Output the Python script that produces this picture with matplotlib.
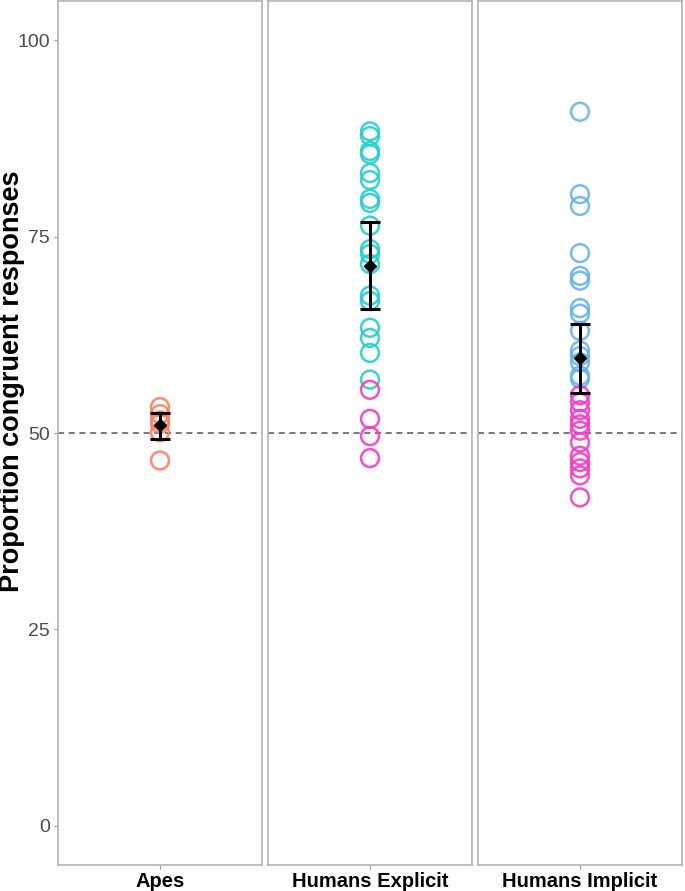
import matplotlib
matplotlib.use("Agg")
import matplotlib.pyplot as plt

plt.rcParams['font.family'] = ['Liberation Sans', 'DejaVu Sans']

groups = ['Apes', 'Humans Explicit', 'Humans Implicit']

# individual scores (proportion congruent responses, %)
apes = [53.3, 52.4, 51.6, 51.2, 50.1, 46.5]
apes_sig = [0, 0, 0, 0, 0, 0]

explicit = [88.4, 87.8, 85.9, 85.5, 83.1, 82.2, 79.8, 79.3, 76.4, 73.4, 72.8,
            71.5, 67.5, 66.8, 63.4, 62.1, 60.2, 56.8, 55.5, 51.8, 49.6, 46.8]
explicit_sig = [1] * 18 + [0] * 4

implicit = [90.9, 80.4, 78.9, 72.9, 70.0, 69.4, 65.9, 65.2, 63.0, 60.5, 59.8,
            59.0, 57.3, 56.9, 54.8, 53.9, 52.9, 51.8, 51.1, 50.3, 48.8, 47.1,
            46.3, 45.5, 44.6, 41.8]
implicit_sig = [1] * 14 + [0] * 12

# group mean and error bar limits
means = [51.0, 71.3, 59.5]
lower = [49.2, 65.8, 55.1]
upper = [52.6, 76.9, 63.9]

values = [apes, explicit, implicit]
sigs = [apes_sig, explicit_sig, implicit_sig]
sig_colors = ['#FF8060', '#22CFCF', '#66B3F0']
nonsig_color = ['#FF8060', '#F53BC8', '#F53BC8']

fig = plt.figure(figsize=(6.85, 8.91), dpi=100)
W, H = 685.0, 891.0
lefts = [58, 268, 478]
pw = 204
bottom, top = 865, 1

for i in range(3):
    ax = fig.add_axes([lefts[i] / W, 1 - bottom / H, pw / W, (bottom - top) / H])
    cols = [sig_colors[i] if s else nonsig_color[i] for s in sigs[i]]
    ax.scatter([1] * len(values[i]), values[i], s=165, facecolors='none',
               edgecolors=cols, linewidths=1.8, alpha=0.9, zorder=3)
    ax.axhline(50, color='#555555', ls=(0, (4, 3)), lw=1.1, zorder=2)
    ax.errorbar([1], [means[i]], yerr=[[means[i] - lower[i]], [upper[i] - means[i]]],
                fmt='D', color='black', ms=6, elinewidth=2.2, capsize=7,
                capthick=2.2, zorder=4)
    ax.set_xlim(0.4, 1.6)
    ax.set_ylim(-5, 105)
    ax.set_xticks([1])
    ax.set_xticklabels([groups[i]], fontsize=14.5, fontweight='bold')
    ax.tick_params(axis='x', length=3, color='#999999', pad=2)
    for sp in ax.spines.values():
        sp.set_color('#B3B3B3')
        sp.set_linewidth(1.2)
    if i == 0:
        ax.set_yticks([0, 25, 50, 75, 100])
        ax.tick_params(axis='y', length=3, color='#999999', labelsize=14,
                      labelcolor='#4D4D4D', pad=3)
        ax.set_ylabel('Proportion congruent responses', fontsize=19.5,
                      fontweight='bold', va='center')
        ax.yaxis.set_label_coords(-46 / pw, (bottom - 381) / (bottom - top))
    else:
        ax.set_yticks([])

fig.savefig('out.png', dpi=100)
